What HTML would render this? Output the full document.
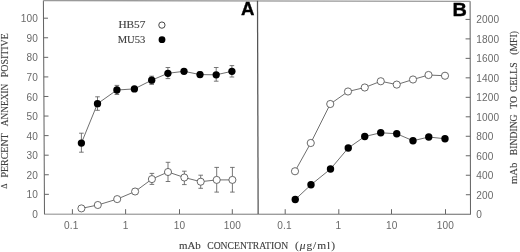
<!DOCTYPE html><html><head><meta charset="utf-8"><title>Figure</title>
<style>html,body{margin:0;padding:0;background:#fff}svg{display:block}.t{font-family:"Liberation Sans",Arial,sans-serif;font-size:10.1px;letter-spacing:0.15px;fill:#6a6a6a}.s{font-family:"Liberation Serif","Times New Roman",serif;font-size:10.4px;fill:#404040;stroke:#404040;stroke-width:0.12px}.p{font-family:"Liberation Sans",Arial,sans-serif;font-weight:bold;font-size:18.6px;fill:#000;stroke:#000;stroke-width:0.35px}</style></head><body>
<svg width="520" height="252" viewBox="0 0 520 252">
<rect width="520" height="252" fill="#fff"/>
<g fill="none" stroke="#666" stroke-width="1">
<path d="M43.4 0.5L44.5 213.95L470.5 214.2L470.1 1.3" stroke-width="1.05"/>
<path d="M43.4 0.5L470.1 1.3" stroke="#9a9a9a" stroke-width="1.3"/>
<path d="M44.40 194.33h4.5M44.30 174.76h4.5M44.20 155.19h4.5M44.10 135.62h4.5M44.00 116.05h4.5M43.90 96.48h4.5M43.80 76.91h4.5M43.69 57.34h4.5M43.59 37.77h4.5M43.49 18.20h4.5M470.46 194.72h-4.6M470.43 175.24h-4.6M470.39 155.76h-4.6M470.35 136.28h-4.6M470.32 116.80h-4.6M470.28 97.32h-4.6M470.25 77.84h-4.6M470.21 58.36h-4.6M470.17 38.88h-4.6M470.14 19.40h-4.6M72.4 214v-4.8M125.6 214v-4.8M179.5 214v-4.8M232.3 214v-4.8M285.2 214v-4.8M338.8 214v-4.8M391.5 214v-4.8M445.5 214v-4.8"/>
</g>
<path d="M257.5 0.8L258.15 214" stroke="#555" stroke-width="1.25" fill="none"/>
<path d="M135.10 188.80V194.20M132.80 188.80h4.6M132.80 194.20h4.6M151.90 173.40V184.40M149.60 173.40h4.6M149.60 184.40h4.6M168.00 162.30V181.50M165.70 162.30h4.6M165.70 181.50h4.6M184.35 171.20V184.60M182.05 171.20h4.6M182.05 184.60h4.6M200.70 175.20V188.30M198.40 175.20h4.6M198.40 188.30h4.6M216.70 167.40V192.10M214.40 167.40h4.6M214.40 192.10h4.6M232.40 167.40V192.10M230.10 167.40h4.6M230.10 192.10h4.6" stroke="#606060" stroke-width="0.85" fill="none"/>
<polyline points="81.40,208.40 97.80,205.00 117.20,199.10 135.10,191.50 151.90,179.10 168.00,172.00 184.35,177.50 200.70,181.70 216.70,179.90 232.40,179.90" fill="none" stroke="#555" stroke-width="0.85"/>
<circle cx="81.40" cy="208.40" r="3.55" fill="#fff" stroke="#505050" stroke-width="0.85"/>
<circle cx="97.80" cy="205.00" r="3.55" fill="#fff" stroke="#505050" stroke-width="0.85"/>
<circle cx="117.20" cy="199.10" r="3.55" fill="#fff" stroke="#505050" stroke-width="0.85"/>
<circle cx="135.10" cy="191.50" r="3.55" fill="#fff" stroke="#505050" stroke-width="0.85"/>
<circle cx="151.90" cy="179.10" r="3.55" fill="#fff" stroke="#505050" stroke-width="0.85"/>
<circle cx="168.00" cy="172.00" r="3.55" fill="#fff" stroke="#505050" stroke-width="0.85"/>
<circle cx="184.35" cy="177.50" r="3.55" fill="#fff" stroke="#505050" stroke-width="0.85"/>
<circle cx="200.70" cy="181.70" r="3.55" fill="#fff" stroke="#505050" stroke-width="0.85"/>
<circle cx="216.70" cy="179.90" r="3.55" fill="#fff" stroke="#505050" stroke-width="0.85"/>
<circle cx="232.40" cy="179.90" r="3.55" fill="#fff" stroke="#505050" stroke-width="0.85"/>
<path d="M81.40 133.20V152.20M79.10 133.20h4.6M79.10 152.20h4.6M97.50 96.80V110.30M95.20 96.80h4.6M95.20 110.30h4.6M116.90 85.40V94.50M114.60 85.40h4.6M114.60 94.50h4.6M151.70 76.20V84.40M149.40 76.20h4.6M149.40 84.40h4.6M167.90 67.50V78.60M165.60 67.50h4.6M165.60 78.60h4.6M184.00 69.30V73.00M181.70 69.30h4.6M181.70 73.00h4.6M200.00 71.80V77.00M197.70 71.80h4.6M197.70 77.00h4.6M216.20 67.50V81.20M213.90 67.50h4.6M213.90 81.20h4.6M231.90 65.60V77.00M229.60 65.60h4.6M229.60 77.00h4.6" stroke="#606060" stroke-width="0.85" fill="none"/>
<polyline points="81.40,143.10 97.50,103.70 116.90,90.00 134.40,88.90 151.70,80.20 167.90,73.30 184.00,71.30 200.00,74.60 216.20,74.80 231.90,71.30" fill="none" stroke="#555" stroke-width="0.85"/>
<circle cx="81.40" cy="143.10" r="3.65" fill="#000"/>
<circle cx="97.50" cy="103.70" r="3.65" fill="#000"/>
<circle cx="116.90" cy="90.00" r="3.65" fill="#000"/>
<circle cx="134.40" cy="88.90" r="3.65" fill="#000"/>
<circle cx="151.70" cy="80.20" r="3.65" fill="#000"/>
<circle cx="167.90" cy="73.30" r="3.65" fill="#000"/>
<circle cx="184.00" cy="71.30" r="3.65" fill="#000"/>
<circle cx="200.00" cy="74.60" r="3.65" fill="#000"/>
<circle cx="216.20" cy="74.80" r="3.65" fill="#000"/>
<circle cx="231.90" cy="71.30" r="3.65" fill="#000"/>
<polyline points="295.25,199.50 311.00,184.75 330.50,169.00 348.25,148.00 364.75,136.50 380.75,132.75 396.75,133.75 413.00,140.75 428.75,137.00 445.00,138.75" fill="none" stroke="#555" stroke-width="0.85"/>
<circle cx="295.25" cy="199.50" r="3.70" fill="#000"/>
<circle cx="311.00" cy="184.75" r="3.70" fill="#000"/>
<circle cx="330.50" cy="169.00" r="3.70" fill="#000"/>
<circle cx="348.25" cy="148.00" r="3.70" fill="#000"/>
<circle cx="364.75" cy="136.50" r="3.70" fill="#000"/>
<circle cx="380.75" cy="132.75" r="3.70" fill="#000"/>
<circle cx="396.75" cy="133.75" r="3.70" fill="#000"/>
<circle cx="413.00" cy="140.75" r="3.70" fill="#000"/>
<circle cx="428.75" cy="137.00" r="3.70" fill="#000"/>
<circle cx="445.00" cy="138.75" r="3.70" fill="#000"/>
<polyline points="295.00,171.25 310.75,143.00 330.25,104.00 348.00,91.50 364.75,87.50 380.75,81.25 396.75,84.60 413.00,79.50 428.50,75.00 445.00,75.75" fill="none" stroke="#555" stroke-width="0.85"/>
<circle cx="295.00" cy="171.25" r="3.60" fill="#fff" stroke="#505050" stroke-width="0.85"/>
<circle cx="310.75" cy="143.00" r="3.60" fill="#fff" stroke="#505050" stroke-width="0.85"/>
<circle cx="330.25" cy="104.00" r="3.60" fill="#fff" stroke="#505050" stroke-width="0.85"/>
<circle cx="348.00" cy="91.50" r="3.60" fill="#fff" stroke="#505050" stroke-width="0.85"/>
<circle cx="364.75" cy="87.50" r="3.60" fill="#fff" stroke="#505050" stroke-width="0.85"/>
<circle cx="380.75" cy="81.25" r="3.60" fill="#fff" stroke="#505050" stroke-width="0.85"/>
<circle cx="396.75" cy="84.60" r="3.60" fill="#fff" stroke="#505050" stroke-width="0.85"/>
<circle cx="413.00" cy="79.50" r="3.60" fill="#fff" stroke="#505050" stroke-width="0.85"/>
<circle cx="428.50" cy="75.00" r="3.60" fill="#fff" stroke="#505050" stroke-width="0.85"/>
<circle cx="445.00" cy="75.75" r="3.60" fill="#fff" stroke="#505050" stroke-width="0.85"/>
<circle cx="161.9" cy="25.1" r="3.15" fill="#fff" stroke="#333" stroke-width="0.9"/>
<circle cx="162" cy="39.7" r="3.4" fill="#000"/>
<g class="t">
<text x="38" y="217.95" text-anchor="end">0</text>
<text x="38" y="198.38" text-anchor="end">10</text>
<text x="38" y="178.81" text-anchor="end">20</text>
<text x="38" y="159.24" text-anchor="end">30</text>
<text x="38" y="139.67" text-anchor="end">40</text>
<text x="38" y="120.10" text-anchor="end">50</text>
<text x="38" y="100.53" text-anchor="end">60</text>
<text x="38" y="80.96" text-anchor="end">70</text>
<text x="38" y="61.39" text-anchor="end">80</text>
<text x="38" y="41.82" text-anchor="end">90</text>
<text x="38" y="22.25" text-anchor="end">100</text>
<text x="476.3" y="218.25">0</text>
<text x="476.3" y="198.77">200</text>
<text x="476.3" y="179.29">400</text>
<text x="476.3" y="159.81">600</text>
<text x="476.3" y="140.33">800</text>
<text x="476.3" y="120.85">1000</text>
<text x="476.3" y="101.37">1200</text>
<text x="476.3" y="81.89">1400</text>
<text x="476.3" y="62.41">1600</text>
<text x="476.3" y="42.93">1800</text>
<text x="476.3" y="23.45">2000</text>
<text x="71.3" y="228.5" text-anchor="middle">0.1</text>
<text x="125.6" y="228.5" text-anchor="middle">1</text>
<text x="179.4" y="228.5" text-anchor="middle">10</text>
<text x="232.5" y="228.5" text-anchor="middle">100</text>
<text x="284.6" y="228.5" text-anchor="middle">0.1</text>
<text x="338.4" y="228.5" text-anchor="middle">1</text>
<text x="391.7" y="228.5" text-anchor="middle">10</text>
<text x="445.3" y="228.5" text-anchor="middle">100</text>
</g>
<text class="p" x="241.1" y="15.4">A</text>
<text class="p" transform="translate(452.5 15.7) scale(1.07 1)">B</text>
<text class="s" x="118.40" y="28.40" textLength="27.0" lengthAdjust="spacingAndGlyphs">HB57</text>
<text class="s" x="117.70" y="43.30" textLength="27.7" lengthAdjust="spacingAndGlyphs">MU53</text>
<text class="s" x="179.00" y="249.20" textLength="21.8" lengthAdjust="spacingAndGlyphs">mAb</text>
<text class="s" x="207.20" y="249.20" textLength="81.0" lengthAdjust="spacingAndGlyphs">CONCENTRATION</text>
<text class="s" style="stroke-width:0.1px" transform="translate(295 249.2) scale(1.1 1)" textLength="36.36" lengthAdjust="spacing">(<tspan font-style="italic">μ</tspan>g/ml)</text>
<text class="s" style="font-size:8.6px" transform="translate(7.2 188.8) rotate(-90)" textLength="5.3" lengthAdjust="spacingAndGlyphs">Δ</text>
<text class="s" transform="translate(7.60 177.50) rotate(-90)" textLength="44.2" lengthAdjust="spacingAndGlyphs">PERCENT</text>
<text class="s" transform="translate(7.60 126.20) rotate(-90)" textLength="42.5" lengthAdjust="spacingAndGlyphs">ANNEXIN</text>
<text class="s" transform="translate(7.60 77.20) rotate(-90)" textLength="44.0" lengthAdjust="spacingAndGlyphs">POSITIVE</text>
<text class="s" transform="translate(517.30 184.00) rotate(-90)" textLength="21.5" lengthAdjust="spacingAndGlyphs">mAb</text>
<text class="s" transform="translate(517.30 155.20) rotate(-90)" textLength="40.8" lengthAdjust="spacingAndGlyphs">BINDING</text>
<text class="s" transform="translate(517.30 108.80) rotate(-90)" textLength="12.7" lengthAdjust="spacingAndGlyphs">TO</text>
<text class="s" transform="translate(517.30 92.10) rotate(-90)" textLength="29.7" lengthAdjust="spacingAndGlyphs">CELLS</text>
<text class="s" transform="translate(517.30 54.80) rotate(-90)" textLength="23.8" lengthAdjust="spacingAndGlyphs">(MFI)</text>
</svg></body></html>
